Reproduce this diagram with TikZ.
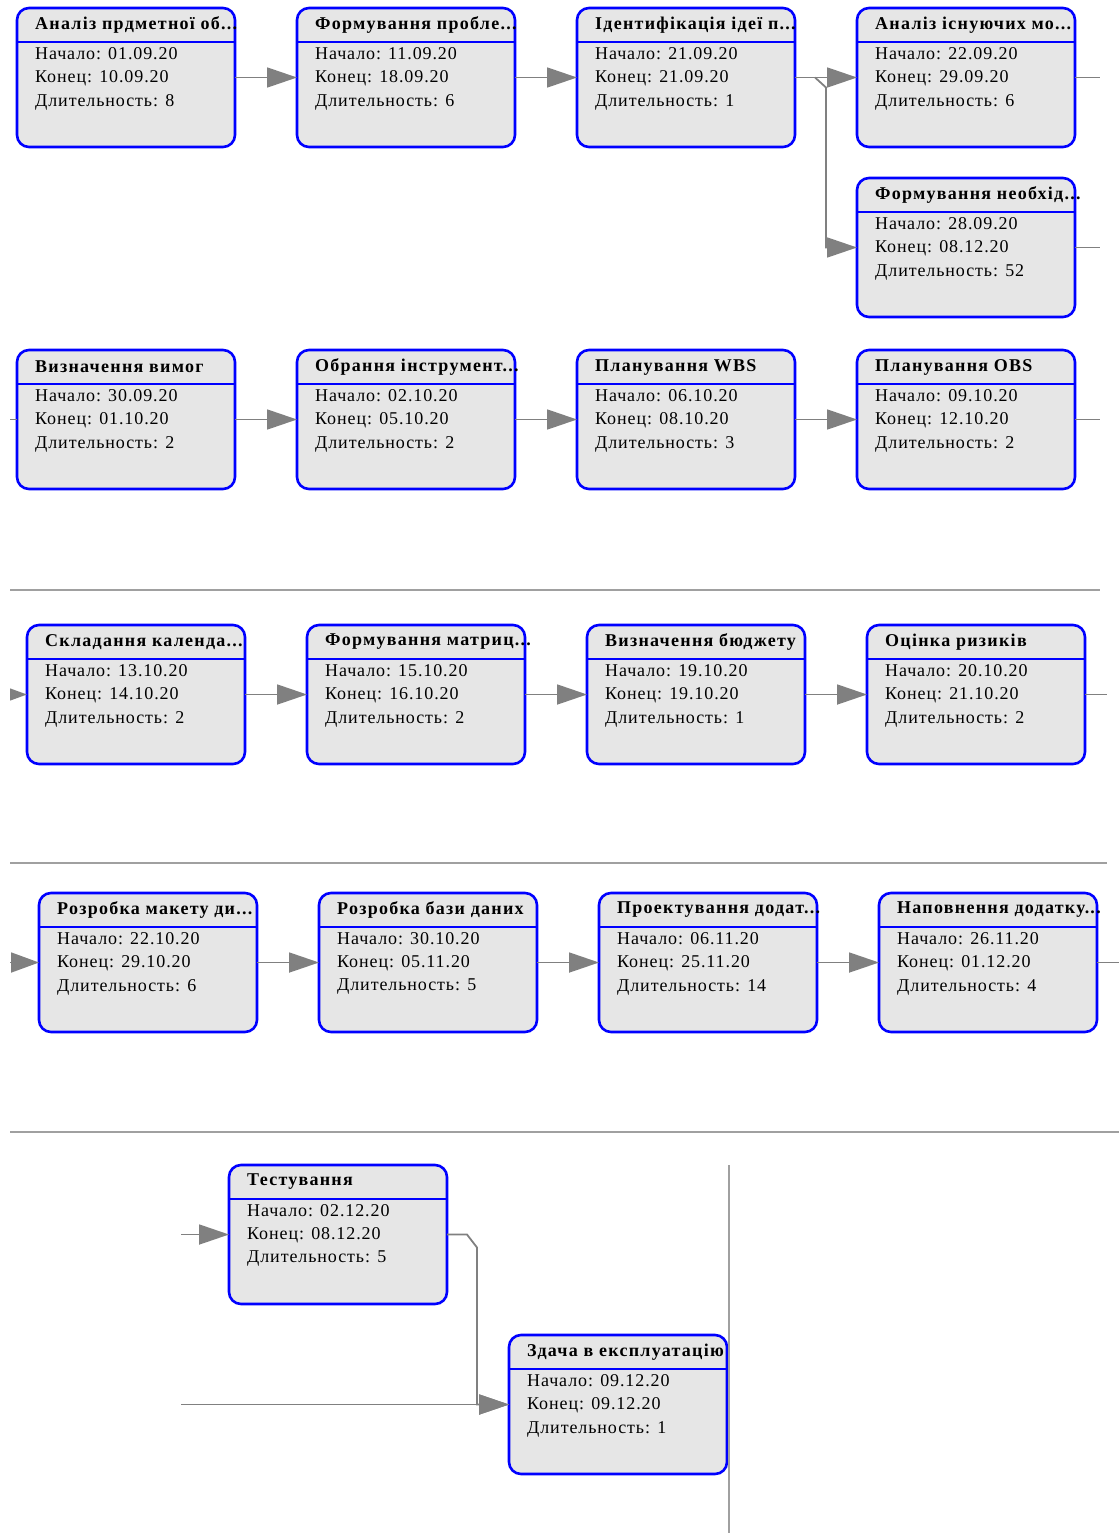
\documentclass[tikz,border=0pt]{standalone}
\usepackage{fontspec}
\setmainfont{Liberation Serif}
\newfontfamily\cardfont[LetterSpace=5]{Liberation Serif}
\usetikzlibrary{arrows.meta}

\definecolor{boxblue}{RGB}{0,0,255}
\definecolor{boxfill}{RGB}{230,230,230}
\definecolor{linkgray}{RGB}{128,128,128}
\definecolor{rulegray}{RGB}{160,160,160}

\tikzset{
  taskbox/.style={draw=boxblue, fill=boxfill, line width=2.6pt, rounded corners=12pt,
    minimum width=218pt, minimum height=139pt, anchor=north west, inner sep=0pt, outer sep=0pt},
  headrule/.style={draw=boxblue, line width=1.3pt},
  titletext/.style={anchor=west, inner sep=0pt, font=\cardfont\fontsize{18}{20}\selectfont\bfseries\addfontfeature{LetterSpace=7}},
  bodytext/.style={anchor=west, inner sep=0pt, font=\cardfont\fontsize{18}{20}\selectfont},
  link/.style={draw=linkgray, line width=1.8pt, -{Triangle[length=30pt,width=20pt]}},
  plainlink/.style={draw=linkgray, line width=1.8pt},
  pagerule/.style={draw=rulegray, line width=1.8pt},
}

% task card: name, x, y (top-left corner), title, start, finish, duration
\newcommand\ganttbox[7]{%
  \node[taskbox] (#1) at (#2,#3) {};
  \draw[headrule] ([yshift=-34pt]#1.north west) -- ([yshift=-34pt]#1.north east);
  \node[titletext] (#1-title) at ([xshift=18pt,yshift=-17pt]#1.north west) {#4};
  \node[bodytext] (#1-start) at ([xshift=18pt,yshift=-46pt]#1.north west) {Начало: #5};
  \node[bodytext] (#1-end) at ([xshift=18pt,yshift=-70pt]#1.north west) {Конец: #6};
  \node[bodytext] (#1-dur) at ([xshift=18pt,yshift=-94pt]#1.north west) {Длительность: #7};
}

\begin{document}
\begin{tikzpicture}[x=1pt,y=-1pt]
\useasboundingbox (0,0) rectangle (1119,1533);

% page breaks
\draw[pagerule] (10,590) -- (1100,590);
\draw[pagerule] (10,863) -- (1107,863);
\draw[pagerule] (10,1132) -- (1119,1132);

% row 1
\ganttbox{a1}{17}{8}{Аналіз прдметної об...}{01.09.20}{10.09.20}{8}
\ganttbox{a2}{297}{8}{Формування пробле...}{11.09.20}{18.09.20}{6}
\ganttbox{a3}{577}{8}{Ідентифікація ідеї п...}{21.09.20}{21.09.20}{1}
\ganttbox{a4}{857}{8}{Аналіз існуючих мо...}{22.09.20}{29.09.20}{6}
\ganttbox{a5}{857}{178}{Формування необхід...}{28.09.20}{08.12.20}{52}

% row 2
\ganttbox{b1}{17}{350}{Визначення вимог}{30.09.20}{01.10.20}{2}
\ganttbox{b2}{297}{350}{Обрання інструмент...}{02.10.20}{05.10.20}{2}
\ganttbox{b3}{577}{350}{Планування WBS}{06.10.20}{08.10.20}{3}
\ganttbox{b4}{857}{350}{Планування OBS}{09.10.20}{12.10.20}{2}

% row 3
\ganttbox{c1}{27}{625}{Складання календа...}{13.10.20}{14.10.20}{2}
\ganttbox{c2}{307}{625}{Формування матриц...}{15.10.20}{16.10.20}{2}
\ganttbox{c3}{587}{625}{Визначення бюджету}{19.10.20}{19.10.20}{1}
\ganttbox{c4}{867}{625}{Оцінка ризиків}{20.10.20}{21.10.20}{2}

% row 4
\ganttbox{d1}{39}{893}{Розробка макету ди...}{22.10.20}{29.10.20}{6}
\ganttbox{d2}{319}{893}{Розробка бази даних}{30.10.20}{05.11.20}{5}
\ganttbox{d3}{599}{893}{Проектування додат...}{06.11.20}{25.11.20}{14}
\ganttbox{d4}{879}{893}{Наповнення додатку...}{26.11.20}{01.12.20}{4}

% row 5
\ganttbox{e1}{229}{1165}{Тестування}{02.12.20}{08.12.20}{5}
\begin{scope}
  \clip (0,1300) rectangle (728,1533);
  \ganttbox{e2}{509}{1335}{Здача в експлуатацію}{09.12.20}{09.12.20}{1}
\end{scope}

% free ends of connectors
\coordinate (a4out) at ([xshift=25pt]a4.east);
\coordinate (a5out) at ([xshift=25pt]a5.east);
\coordinate (b1in) at ([xshift=-9pt]b1.west);
\coordinate (b4out) at ([xshift=25pt]b4.east);
\coordinate (c1in) at ([xshift=-19pt]c1.west);
\coordinate (c4out) at ([xshift=22pt]c4.east);
\coordinate (d1in) at ([xshift=-31pt]d1.west);
\coordinate (d4out) at ([xshift=22pt]d4.east);
\coordinate (e1in) at ([xshift=-48pt]e1.west);
\coordinate (e2in) at ([xshift=-328pt]e2.west);
\coordinate (fork1) at ([xshift=20pt]a3.east);
\coordinate (fork2) at ([xshift=31pt,yshift=-10pt]a3.east);
\coordinate (join1) at ([xshift=20pt]e1.east);
\coordinate (join2) at ([xshift=30pt,yshift=-13pt]e1.east);

% row 1 links
\draw[link] (a1.east) -- (a2.west);
\draw[link] (a2.east) -- (a3.west);
\draw[link] (a3.east) -- (a4.west);
\draw[link] (fork1) -- (fork2) |- (a5.west);
\draw[plainlink] (a4.east) -- (a4out);
\draw[plainlink] (a5.east) -- (a5out);

% row 2 links
\draw[link] (b1.east) -- (b2.west);
\draw[link] (b2.east) -- (b3.west);
\draw[link] (b3.east) -- (b4.west);
\draw[plainlink] (b4.east) -- (b4out);

% row 3 links
\draw[link] (c1.east) -- (c2.west);
\draw[link] (c2.east) -- (c3.west);
\draw[link] (c3.east) -- (c4.west);
\draw[plainlink] (c4.east) -- (c4out);

% row 4 links
\draw[link] (d1.east) -- (d2.west);
\draw[link] (d2.east) -- (d3.west);
\draw[link] (d3.east) -- (d4.west);
\draw[plainlink] (d4.east) -- (d4out);

% links continued from the previous page
\begin{scope}
  \clip (10,300) rectangle (200,1100);
  \draw[plainlink] (b1in) -- (b1.west);
  \draw[link, -{Triangle[length=20pt,width=14pt]}] (c1in) -- (c1.west);
  \draw[link, -{Triangle[length=28pt,width=20pt]}] (d1in) -- (d1.west);
\end{scope}

% row 5 links
\draw[link] (e1in) -- (e1.west);
\draw[link] (e2in) -- (e2.west);
\draw[link] (e1.east) -- (join1) -- (join2) |- (e2.west);

% page edge
\draw[pagerule] (729,1165) -- (729,1533);
\end{tikzpicture}
\end{document}
